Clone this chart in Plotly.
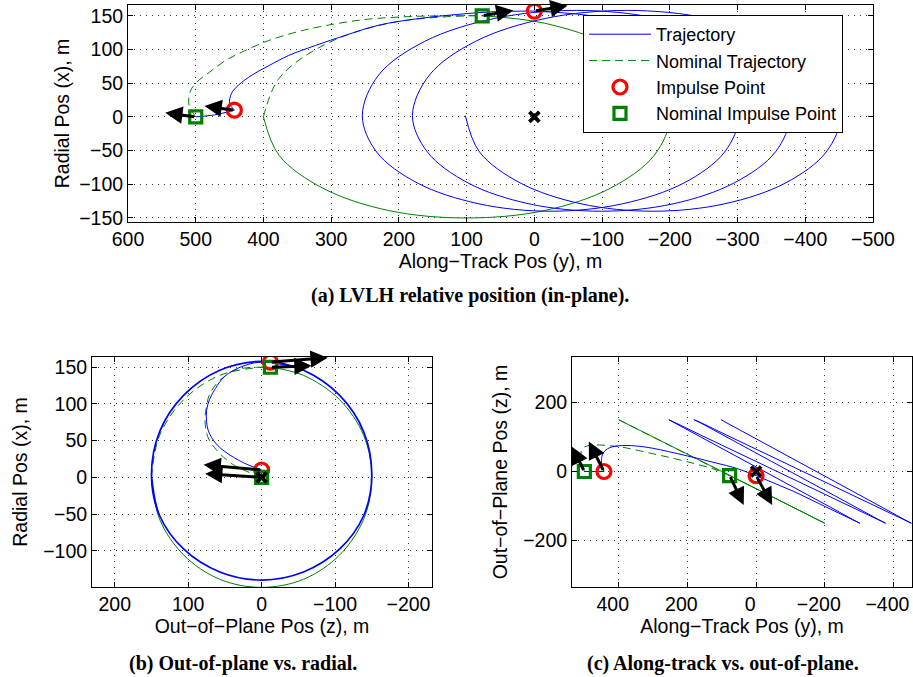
import plotly.graph_objects as go

# ---------------- data ----------------
# coordinates: y = along-track, x = radial, z = out-of-plane  [m]

# actual trajectory: drift before first burn
pre_y = [500, 472, 443]
pre_x = [0, 3, 10]
pre_z = [0, 0, 0]

# actual transfer arc (first burn -> second burn)
xfer_y = [443, 450, 447, 437, 417, 392, 363, 323, 279, 230, 170, 114, 60, 0]
xfer_x = [10, 20, 35, 47, 62, 76, 91, 106, 121, 136, 146, 152, 156, 157]
xfer_z = [0, 25, 50, 63, 72, 75, 75, 71, 63, 52, 38, 24, 10, -12]

# actual trajectory after second burn (drifting relative orbit)
post_y = [0, -108, -210, -278, -302,
          -281, -221, -130, -24, 82, 173, 233, 254,
          230, 162, 59, -62, -182, -285, -353, -377,
          -356, -295, -205, -99, 8, 98, 158, 180,
          155, 87, -16, -137, -257, -360, -428, -452,
          -431, -371, -281, -175, -69, 21, 81, 102]
post_x = [157, 146, 112, 62, 2,
          -52, -98, -129, -140, -129, -98, -52, 2,
          62, 112, 146, 158, 146, 112, 62, 2,
          -52, -98, -129, -140, -129, -98, -52, 2,
          62, 112, 146, 158, 146, 112, 62, 2,
          -52, -98, -129, -140, -129, -98, -52, 2]
post_z = [-12, -57, -106, -139, -150,
          -139, -106, -57, 0, 57, 106, 139, 150,
          139, 106, 57, 0, -57, -106, -139, -150,
          -139, -106, -57, 0, 57, 106, 139, 150,
          139, 106, 57, 0, -57, -106, -139, -150,
          -139, -106, -57, 0, 57, 106, 139, 150]

# nominal transfer arc
nom_xfer_y = [500, 510, 508, 498, 480, 457, 430, 393, 343, 294, 245, 180, 120, 77]
nom_xfer_x = [0, 18, 38, 52, 66, 83, 97, 113, 128, 138, 145, 149, 150, 150]
nom_xfer_z = [0, 40, 62, 72, 76, 77, 75, 71, 61, 50, 39, 23, 6, -12]

# nominal relative orbit after second burn
nom_post_y = [77, -15, -112, -177, -200, -177, -112, -15, 100, 215, 312, 377, 400,
              377, 312, 215, 100, 77]
nom_post_x = [150, 139, 106, 57, 0, -57, -106, -139, -150, -139, -106, -57, 0,
              57, 106, 139, 150, 150]
nom_post_z = [-12, -57, -106, -139, -150, -139, -106, -57, 0, 57, 106, 139, 150,
              139, 106, 57, 0, -12]
nom_dash_from = 12   # last quarter of the nominal orbit is drawn dashed

# impulse points
imp_y, imp_x, imp_z = [443, 0], [10, 157], [0, -12]
nimp_y, nimp_x, nimp_z = [500, 77], [0, 150], [0, -12]
target_y, target_x, target_z = [0], [0], [0]

# delta-v arrow heads per panel (order: impulse 1, impulse 2, nominal 1, nominal 2)
head_a_h, head_a_v = [487, -49, 545, 31], [16, 165, 6, 158]
head_b_h, head_b_v = [79, -90, 77, -68], [17, 163, 5, 152]
head_c_h, head_c_v = [487, -47, 536, 36], [87, -97, 72, -97]

legend_names = ["Trajectory", "Nominal Trajectory", "Impulse Point", "Nominal Impulse Point"]
captions = ["(a) LVLH relative position (in-plane).",
            "(b) Out-of-plane vs. radial.",
            "(c) Along-track vs. out-of-plane."]

# ---------------- styling ----------------
BLUE, GREEN, RED = "#0000FF", "#008000", "#FF0000"
SANS = "Liberation Sans, Arial, Helvetica, sans-serif"
SERIF = "Liberation Serif, Times New Roman, serif"
FS = 19.5

panels = {
    "a": dict(xa="x", ya="y", H="y", V="x", heads=(head_a_h, head_a_v)),
    "b": dict(xa="x2", ya="y2", H="z", V="x", heads=(head_b_h, head_b_v)),
    "c": dict(xa="x3", ya="y3", H="y", V="z", heads=(head_c_h, head_c_v)),
}


def sel(axis, y, x, z):
    return {"y": y, "x": x, "z": z}[axis]


fig = go.Figure()
annotations = []

for key, p in panels.items():
    first = key == "a"
    H, V = p["H"], p["V"]
    xa, ya = p["xa"], p["ya"]
    post_shape = "linear" if key == "c" else "spline"
    post_w = 1.7 if key == "b" else 1

    def add_line(y, x, z, color, dash, shape, name=None, show=False, group=None,
                 rank=None, width=1):
        fig.add_trace(go.Scatter(
            x=sel(H, y, x, z), y=sel(V, y, x, z), xaxis=xa, yaxis=ya,
            mode="lines", line=dict(color=color, width=width, dash=dash, shape=shape),
            name=name, showlegend=show, legendgroup=group, legendrank=rank,
            hoverinfo="skip"))

    # nominal (green)
    add_line(nom_xfer_y, nom_xfer_x, nom_xfer_z, GREEN, "8px,5px", "spline",
             legend_names[1], first, "nom", 2)
    add_line(nom_post_y[:nom_dash_from + 1], nom_post_x[:nom_dash_from + 1],
             nom_post_z[:nom_dash_from + 1], GREEN, "solid", post_shape, group="nom")
    add_line(nom_post_y[nom_dash_from:], nom_post_x[nom_dash_from:],
             nom_post_z[nom_dash_from:], GREEN, "8px,5px", post_shape, group="nom")
    # actual (blue)
    add_line(pre_y, pre_x, pre_z, BLUE, "solid", "spline", legend_names[0], first, "traj", 1)
    add_line(xfer_y, xfer_x, xfer_z, BLUE, "solid", "spline", group="traj")
    add_line(post_y, post_x, post_z, BLUE, "solid", post_shape, group="traj", width=post_w)

    # markers
    fig.add_trace(go.Scatter(
        x=sel(H, imp_y, imp_x, imp_z), y=sel(V, imp_y, imp_x, imp_z), xaxis=xa, yaxis=ya,
        mode="markers", name=legend_names[2], showlegend=first, legendgroup="imp",
        legendrank=3,
        marker=dict(symbol="circle-open", size=14, color=RED, line=dict(width=3.2, color=RED)),
        hoverinfo="skip"))
    fig.add_trace(go.Scatter(
        x=sel(H, nimp_y, nimp_x, nimp_z), y=sel(V, nimp_y, nimp_x, nimp_z), xaxis=xa, yaxis=ya,
        mode="markers", name=legend_names[3], showlegend=first, legendgroup="nimp",
        legendrank=4,
        marker=dict(symbol="square-open", size=12, color=GREEN, line=dict(width=3.2, color=GREEN)),
        hoverinfo="skip"))
    fig.add_trace(go.Scatter(
        x=sel(H, target_y, target_x, target_z), y=sel(V, target_y, target_x, target_z),
        xaxis=xa, yaxis=ya, mode="markers", showlegend=False,
        marker=dict(symbol="x-thin-open", size=10, color="black", line=dict(width=3.8, color="black")),
        hoverinfo="skip"))

    # delta-v arrows
    tails_h = sel(H, imp_y, imp_x, imp_z) + sel(H, nimp_y, nimp_x, nimp_z)
    tails_v = sel(V, imp_y, imp_x, imp_z) + sel(V, nimp_y, nimp_x, nimp_z)
    hh, hv = p["heads"]
    for k in range(4):
        annotations.append(dict(
            x=hh[k], y=hv[k], ax=tails_h[k], ay=tails_v[k],
            xref=xa, yref=ya, axref=xa, ayref=ya, text="", showarrow=True,
            arrowhead=2, arrowsize=1.15, arrowwidth=3, arrowcolor="black", standoff=0))


def axis(domain, rng, dtick, anchor, title, standoff, shift=0):
    return dict(domain=domain, range=rng, dtick=dtick, tick0=0, anchor=anchor,
                autorange=False, automargin=False, ticklabeloverflow="allow",
                ticklabelshift=shift,
                showline=True, linecolor="black",
                linewidth=1, mirror="allticks", ticks="inside", ticklen=5, tickwidth=1,
                tickcolor="black", showgrid=True, gridcolor="#333333",
                griddash="1px,5px", gridwidth=1, zeroline=False,
                tickfont=dict(family=SANS, size=FS, color="black"),
                title=dict(text=title, font=dict(family=SANS, size=FS, color="black"),
                           standoff=standoff))


W, Hh = 913, 677
dom = lambda a, b: [a / W, b / W]
domy = lambda top, bot: [1 - bot / Hh, 1 - top / Hh]

fig.update_layout(
    width=W, height=Hh, margin=dict(l=0, r=0, t=0, b=0, autoexpand=False),
    paper_bgcolor="white", plot_bgcolor="white",
    xaxis=axis(dom(128, 873), [600, -500], 100, "y", "Along\u2212Track Pos (y), m", 4),
    yaxis=axis(domy(5, 222), [-156, 166], 50, "x", "Radial Pos (x), m", 4),
    xaxis2=axis(dom(92, 432), [231, -232], 100, "y2", "Out\u2212of\u2212Plane Pos (z), m", 4),
    yaxis2=axis(domy(357, 587), [-149.5, 164], 50, "x2", "Radial Pos (x), m", 10),
    xaxis3=axis(dom(572, 912), [536, -454], 200, "y3", "Along\u2212Track Pos (y), m", 4,
                shift=6),
    yaxis3=axis(domy(357, 587), [-335, 332], 200, "x3", "Out\u2212of\u2212Plane Pos (z), m", 10),
    showlegend=True,
    legend=dict(x=583 / W, y=1 - 15 / Hh, xanchor="left", yanchor="top",
                bgcolor="white", bordercolor="black", borderwidth=1,
                font=dict(family=SANS, size=18, color="black"),
                itemwidth=62, tracegroupgap=0, traceorder="normal"),
)

cap_pos = [(470, 295), (243, 663), (723, 663)]
for text, (cx, cy) in zip(captions, cap_pos):
    annotations.append(dict(
        text="<b>" + text + "</b>", x=cx / W, y=1 - cy / Hh, xref="paper", yref="paper",
        showarrow=False, xanchor="center", yanchor="middle",
        font=dict(family=SERIF, size=20, color="black")))

fig.update_layout(annotations=annotations)

fig.write_html("out.html")
